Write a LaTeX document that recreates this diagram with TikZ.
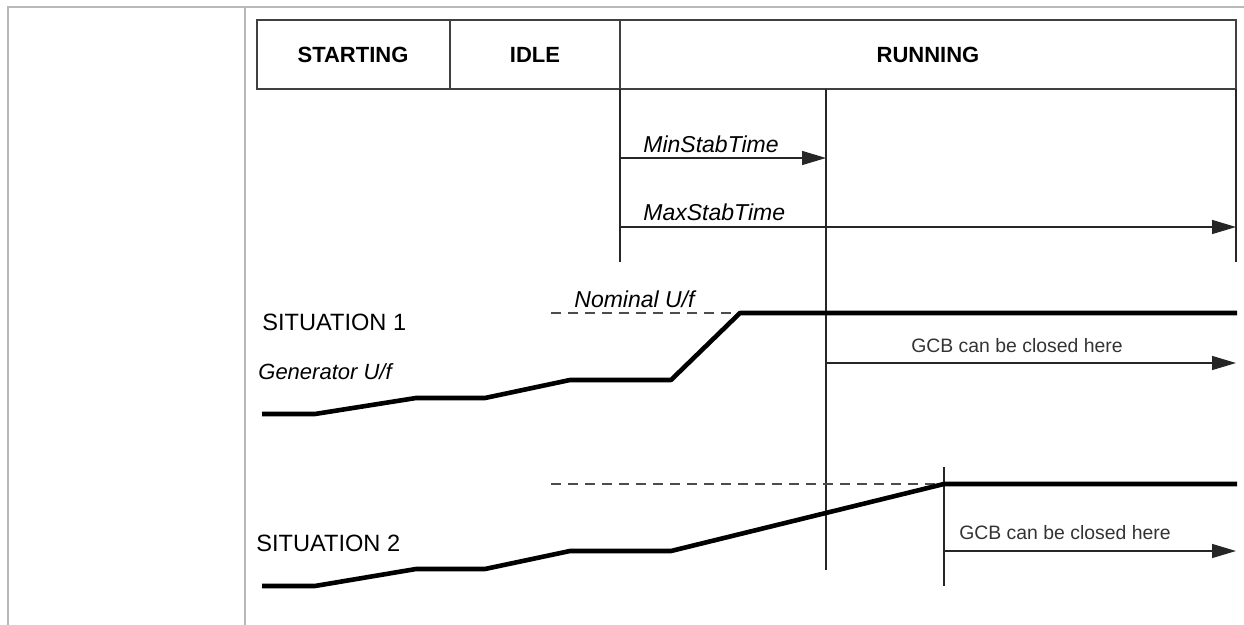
\documentclass[tikz,border=0pt]{standalone}
\usepackage{fontspec}
\setmainfont{Liberation Sans}
\usetikzlibrary{arrows.meta}

\begin{document}
\begin{tikzpicture}[x=0.5pt,y=-0.5pt,
    frame/.style={draw=black!28,line width=0.8pt},
    hdr/.style={draw=black!75,line width=1pt},
    thin/.style={draw=black!85,line width=0.7pt},
    timer/.style={thin,-{Triangle[length=12pt,width=7pt]}},
    ufline/.style={line width=2.3pt,line join=round},
    nominal/.style={draw=black!70,line width=0.6pt,dash pattern=on 5pt off 3.5pt},
    state/.style={font=\bfseries\fontsize{11}{13}\selectfont},
    tlabel/.style={font=\itshape\fontsize{11.5}{13}\selectfont,anchor=base west,inner sep=0pt},
    situ/.style={font=\fontsize{11.8}{13}\selectfont,anchor=west,inner sep=0pt},
    gcb/.style={font=\fontsize{9.7}{11}\selectfont,text=black!80,inner sep=0pt}]
  \useasboundingbox (0,0) rectangle (1244,625);

  % page frame
  \draw[frame] (8,625) -- (8,7) -- (1244,7);
  \draw[frame] (245,7) -- (245,625);

  % state bar
  \draw[hdr] (257,20) rectangle (1236,89);
  \draw[hdr] (450,20) -- (450,89);
  \draw[hdr] (620,20) -- (620,89);
  \node[state] (starting) at (353,55) {STARTING};
  \node[state] (idle)     at (535,55) {IDLE};
  \node[state] (running)  at (928,55) {RUNNING};

  % time marks
  \coordinate (stab)    at (620,89);
  \coordinate (stabEnd) at (620,262);
  \coordinate (minT)    at (826,89);
  \coordinate (minTEnd) at (826,570);
  \coordinate (maxT)    at (1236,89);
  \coordinate (maxTEnd) at (1236,262);
  \coordinate (ok2)     at (944,467);
  \coordinate (ok2End)  at (944,586);
  \draw[thin] (stab) -- (stabEnd);
  \draw[thin] (minT) -- (minTEnd);
  \draw[thin] (maxT) -- (maxTEnd);
  \draw[thin] (ok2)  -- (ok2End);

  % stabilisation timers
  \coordinate (minA) at (620,158);
  \coordinate (maxA) at (620,227);
  \draw[timer] (minA) -- (minA -| minT);
  \draw[timer] (maxA) -- (maxA -| maxT);
  \node[tlabel] (minlbl) at (643,153) {MinStabTime};
  \node[tlabel] (maxlbl) at (643,221) {MaxStabTime};

  % situation 1
  \node[situ]   (sit1) at (262,322) {SITUATION 1};
  \node[tlabel,font=\itshape\fontsize{11}{12}\selectfont] (genlbl) at (258,380) {Generator U/f};
  \draw[nominal] (551,313) -- (740,313);
  \node[tlabel] (nomlbl) at (574,308) {Nominal U/f};
  \draw[ufline] (262,414) -- (315,414) -- (416,398) -- (485,398)
    -- (570,380) -- (671,380) -- (740,313) -- (1237,313);
  \coordinate (gcbA) at (826,363);
  \draw[timer] (gcbA) -- (gcbA -| maxT);
  \node[gcb] (gcb1) at (1017,346) {GCB can be closed here};

  % situation 2
  \node[situ] (sit2) at (256,543) {SITUATION 2};
  \draw[nominal] (551,484) -- (944,484);
  \draw[ufline] (262,586) -- (315,586) -- (416,569) -- (485,569)
    -- (570,551) -- (671,551) -- (944,484) -- (1237,484);
  \coordinate (gcbB) at (944,551);
  \draw[timer] (gcbB) -- (gcbB -| maxT);
  \node[gcb] (gcb2) at (1065,533) {GCB can be closed here};
\end{tikzpicture}
\end{document}
